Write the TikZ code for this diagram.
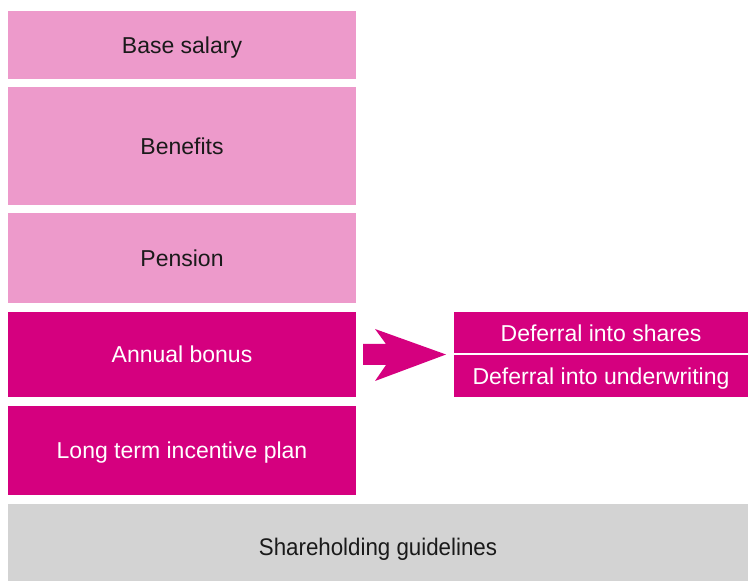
\documentclass[tikz,border=0pt]{standalone}
\usepackage{fontspec}
\setmainfont{Liberation Sans}
\newfontfamily\narrowfont[FakeStretch=0.93]{Liberation Sans}
\usetikzlibrary{
  calc,
  positioning,
}
\definecolor{palepink}{RGB}{237, 154, 203}
\definecolor{rubine}{RGB}{213, 0, 127}
\definecolor{lightgrey}{RGB}{211, 211, 211}
\definecolor{inkgrey}{RGB}{26, 26, 26}
\tikzstyle{tier} = [
  rectangle,
  inner sep=0pt,
  outer sep=0pt,
  minimum width=348pt,
  text depth=0pt,
  font=\fontsize{23}{27}\selectfont,
]
\tikzstyle{fixedpay} = [tier, fill=palepink, text=inkgrey]
\tikzstyle{variablepay} = [tier, fill=rubine, text=white]

\begin{document}
\begin{tikzpicture}
			\useasboundingbox (0,0) rectangle (748pt,581pt);

			\node[fixedpay,minimum height=68pt,anchor=north west] (salary) at (8pt,570pt) {Base salary};
			\node[fixedpay,minimum height=118pt] (benefits) [below=8pt of salary] {Benefits};
			\node[fixedpay,minimum height=90pt] (pension) [below=8pt of benefits] {Pension};
			\node[variablepay,minimum height=85pt] (bonus) [below=9pt of pension] {Annual bonus};
			\node[variablepay,minimum height=89pt] (ltip) [below=9pt of bonus] {Long term incentive plan};

			\node[tier,fill=lightgrey,text=inkgrey,minimum width=740pt,minimum height=77pt,text height=27pt,anchor=south west,font=\narrowfont\fontsize{24}{28}\selectfont] (holding) at (8pt,0pt) {Shareholding guidelines};

			\node[variablepay,minimum width=294pt,minimum height=41.5pt,anchor=north west] (shares) at (454pt,269pt) {Deferral into shares};
			\node[variablepay,minimum width=294pt,minimum height=41.5pt] (underwriting) [below=2pt of shares] {Deferral into underwriting};

			% block arrow from bonus to the deferrals
			\fill[rubine] ($(bonus.east)+(7pt,10.5pt)$) -- ($(bonus.east)+(30pt,10.5pt)$)
				-- ($(bonus.east)+(19pt,25.5pt)$) -- ($(bonus.east)+(90pt,0pt)$)
				-- ($(bonus.east)+(19pt,-26.5pt)$) -- ($(bonus.east)+(30pt,-10.5pt)$)
				-- ($(bonus.east)+(7pt,-10.5pt)$) -- cycle;
		\end{tikzpicture}
\end{document}
